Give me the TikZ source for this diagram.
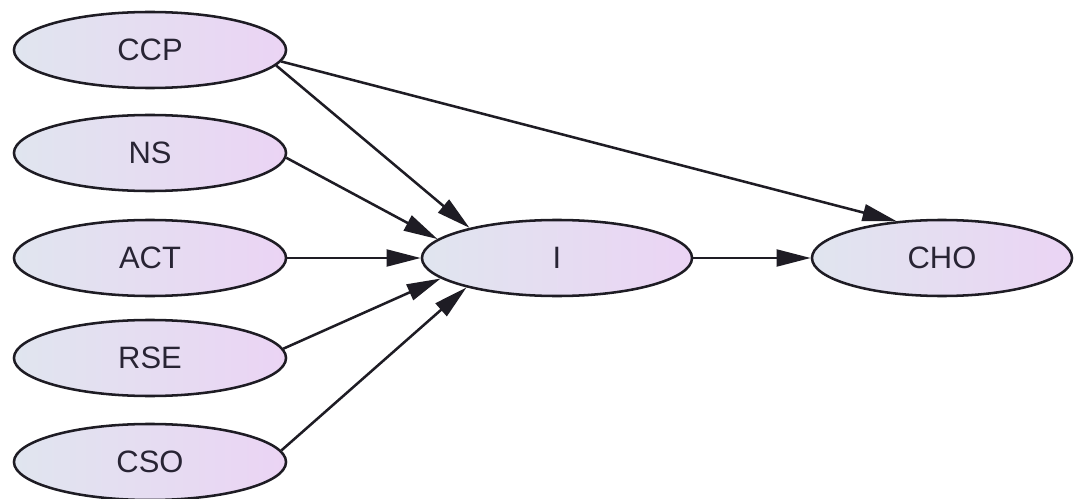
\documentclass[tikz,border=0pt]{standalone}
\usepackage{fontspec}
\setmainfont{Liberation Sans}
\usepackage{tikz}
\usetikzlibrary{arrows.meta, shapes.geometric}

\definecolor{nodeleft}{RGB}{224,229,239}
\definecolor{noderight}{RGB}{235,212,244}
\definecolor{nodeline}{RGB}{30,28,36}
\definecolor{nodetext}{RGB}{40,36,52}

\begin{document}
\begin{tikzpicture}[x=0.025cm, y=-0.025cm,
    var/.style={ellipse, draw=nodeline, line width=1.8pt,
      left color=nodeleft, right color=noderight,
      minimum width=6.8cm, minimum height=1.9cm, inner sep=0pt,
      text=nodetext, font=\fontsize{22}{26}\selectfont},
    path/.style={draw=nodeline, line width=1.8pt,
      -{Triangle[length=0.85cm, width=0.42cm]}}]
  \useasboundingbox (0,0) rectangle (1074,499);
  % exogenous variables
  \node[var] (CCP) at (150,50) {CCP};
  \node[var] (NS) at (150,153) {NS};
  \node[var] (ACT) at (150,258) {ACT};
  \node[var] (RSE) at (150,358) {RSE};
  \node[var] (CSO) at (150,462) {CSO};
  % mediator and outcome
  \node[var, minimum width=6.75cm] (I) at (557,258) {I};
  \node[var, minimum width=6.5cm] (CHO) at (942,258) {CHO};
  % paths
  \draw[path] (CCP.-7) -- (I.161);
  \draw[path] (CCP.-5) -- (CHO.141);
  \draw[path] (NS.-2) -- (I.171);
  \draw[path] (ACT.0) -- (I.180);
  \draw[path] (RSE.4) -- (I.190);
  \draw[path] (CSO.5) -- (I.198);
  \draw[path] (I.0) -- (CHO.180);
\end{tikzpicture}
\end{document}
